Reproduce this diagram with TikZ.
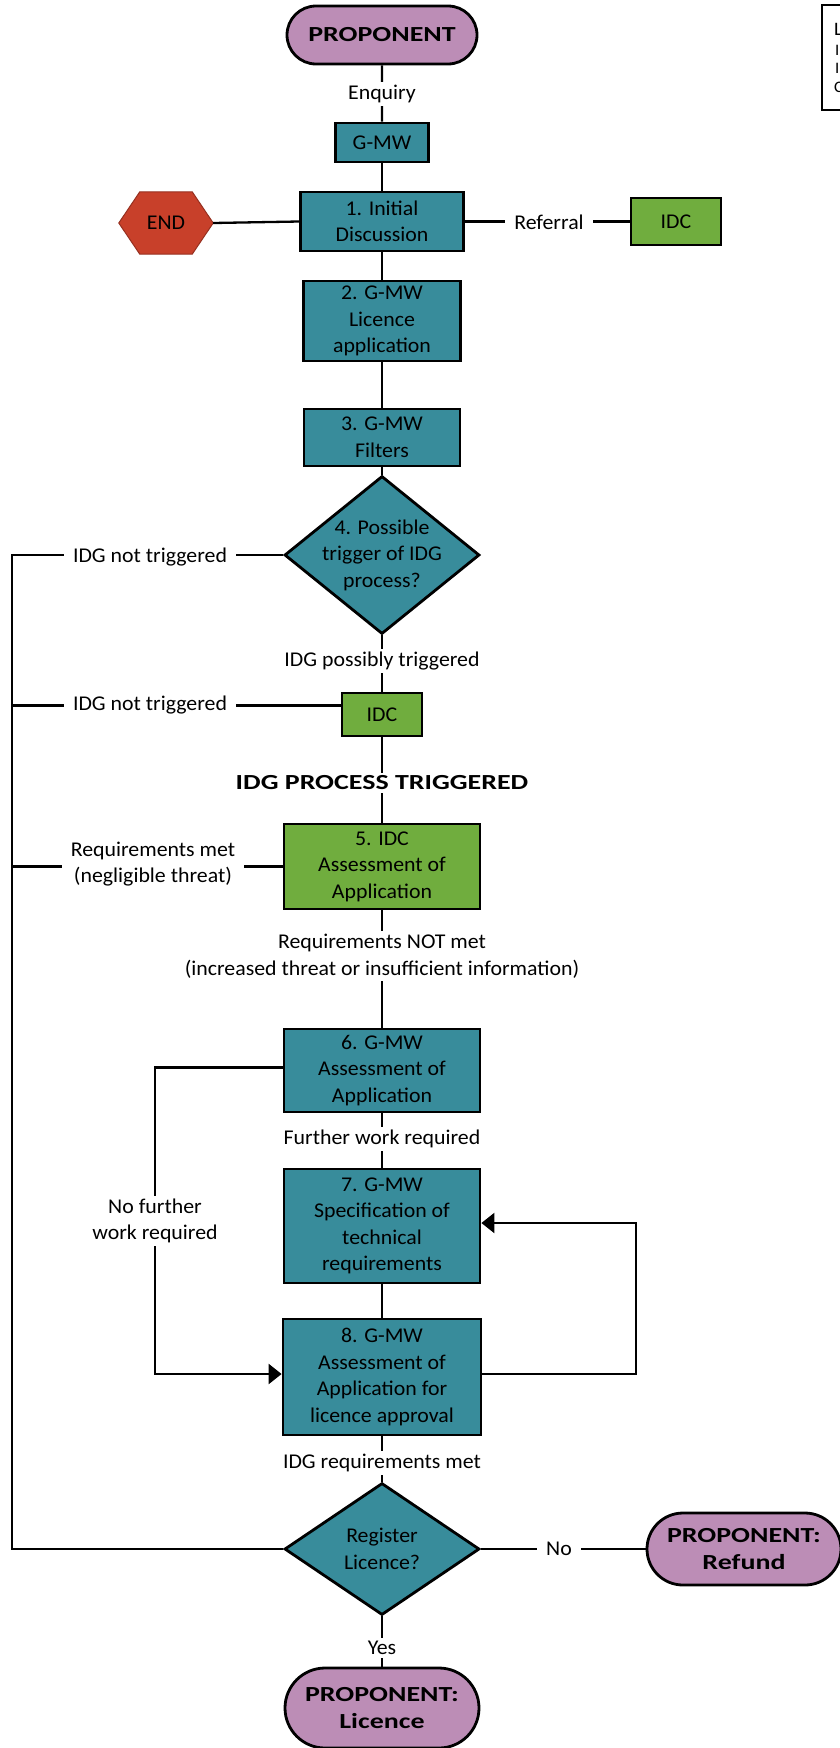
\documentclass[tikz,border=0pt]{standalone}
\usepackage{fontspec}
\setmainfont{Carlito}[FakeStretch=1.04]
\newfontfamily\widebf{Carlito}[FakeStretch=1.3]
\usetikzlibrary{arrows.meta,shapes.geometric,shapes.misc,calc,backgrounds}
\definecolor{tealbox}{RGB}{56,140,155}
\definecolor{greenbox}{RGB}{112,173,62}
\definecolor{purpbox}{RGB}{188,141,182}
\definecolor{redend}{RGB}{200,64,42}
\newcommand\fsz{\fontsize{21}{26.5}\selectfont}
\newcommand\bfz{\fontsize{21.5}{26.5}\selectfont\widebf\bfseries}
\tikzset{
  base/.style={draw=black, line width=2.8pt, align=center, font=\fsz, inner sep=0pt},
  tbox/.style={base, rectangle, fill=tealbox},
  gbox/.style={base, rectangle, fill=greenbox},
  stad/.style={base, rounded rectangle, fill=purpbox, font=\bfz},
  dia/.style={base, diamond, fill=tealbox, inner sep=-30pt},
  lbl/.style={fill=white, align=center, font=\fsz, inner xsep=9pt, inner ysep=3pt},
  conn/.style={draw=black, line width=2.3pt},
  tri/.style={-{Triangle[length=13pt,width=20pt]}}
}
\begin{document}
\begin{tikzpicture}[x=1pt,y=-1pt]
\useasboundingbox (0,0) rectangle (840,1748);
% main nodes
\node[stad, minimum width=190pt, minimum height=58pt] (prop) at (382,35) {PROPONENT};
\node[tbox, minimum width=93pt, minimum height=39pt] (gmw0) at (382,142.5) {G-MW};
\node[tbox, minimum width=163pt, minimum height=59pt] (init) at (382,221.5) {1. Initial\\Discussion};
\node[rectangle, minimum width=94pt, minimum height=62pt, inner sep=0pt, font=\fsz] (end) at (166,223) {END};
\node[gbox, minimum width=90pt, minimum height=47pt] (idc1) at (676,221.5) {IDC};
\node[tbox, minimum width=157pt, minimum height=80pt] (app) at (382,321) {2. G-MW\\Licence\\application};
\node[tbox, minimum width=156pt, minimum height=57pt] (filt) at (382,437.5) {3. G-MW\\Filters};
\node[dia, minimum width=195pt, minimum height=158pt] (dec4) at (382,555) {4. Possible\\trigger of IDG\\process?};
\node[gbox, minimum width=80pt, minimum height=43pt] (idc2) at (382,714.5) {IDC};
\node[gbox, minimum width=196pt, minimum height=85pt] (a5) at (382,866.5) {5. IDC\\Assessment of\\Application};
\node[tbox, minimum width=196pt, minimum height=83pt] (a6) at (382,1070.5) {6. G-MW\\Assessment of\\Application};
\node[tbox, minimum width=196pt, minimum height=114pt] (a7) at (382,1226) {7. G-MW\\Specification of\\technical\\requirements};
\node[tbox, minimum width=198pt, minimum height=116pt] (a8) at (382,1377) {8. G-MW\\Assessment of\\Application for\\licence approval};
\node[dia, minimum width=195pt, minimum height=132pt] (reg) at (382,1549) {Register\\Licence?};
\node[stad, minimum width=194pt, minimum height=72pt] (refund) at (744,1549) {PROPONENT:\\Refund};
\node[stad, minimum width=194pt, minimum height=80pt] (lic) at (382,1708) {PROPONENT:\\Licence};
% END hexagon
\begin{scope}[on background layer]
\draw[fill=redend, draw=redend!75!black, line width=1pt]
  (end.west) -- ($(end.north west)+(21,0)$) -- ($(end.north east)+(-21,0)$) -- (end.east)
  -- ($(end.south east)+(-21,0)$) -- ($(end.south west)+(21,0)$) -- cycle;
\end{scope}
% rail coordinates
\coordinate (railx) at (12,0);
\coordinate (lx) at (155,0);
\coordinate (rx) at (636,0);
% connectors
\draw[conn] (prop) -- (gmw0);
\draw[conn] (gmw0) -- (init);
\draw[conn] (init) -- (app);
\draw[conn] (app) -- (filt);
\draw[conn] (filt) -- (dec4);
\draw[conn] (dec4) -- (idc2);
\draw[conn] (idc2) -- (a5);
\draw[conn] (a5) -- (a6);
\draw[conn] (a6) -- (a7);
\draw[conn] (a7) -- (a8);
\draw[conn] (a8) -- (reg);
\draw[conn] (reg) -- (lic);
\draw[conn] (init.west) -- (end.east);
\draw[conn] (init.east) -- (idc1.west);
\draw[conn] (reg.east) -- (refund.west);
\draw[conn] (dec4.west) -- (dec4.west -| railx) |- (reg.west);
\draw[conn] ([yshift=9pt]idc2.west) -- ([yshift=9pt]idc2.west -| railx);
\draw[conn] (a5.west) -- (a5.west -| railx);
\draw[conn, tri] ([yshift=3pt]a6.west) -- ([yshift=3pt]a6.west -| lx) |- ([yshift=3pt]a8.west);
\draw[conn, tri] ([yshift=3pt]a8.east) -- ([yshift=3pt]a8.east -| rx) |- ([yshift=3pt]a7.east);
% labels
\node[lbl] (lenq) at (382,94) {Enquiry};
\node[lbl] (lref) at (549,222) {Referral};
\node[lbl] (lnt1) at (150,557) {IDG not triggered};
\node[lbl] (lposs) at (382,661) {IDG possibly triggered};
\node[lbl] (lnt2) at (150,705) {IDG not triggered};
\node[lbl, font=\bfz] (ltrig) at (382,783) {IDG PROCESS TRIGGERED};
\node[lbl] (lrm) at (153,864) {Requirements met\\(negligible threat)};
\node[lbl] (lrnm) at (382,956) {Requirements NOT met\\(increased threat or insufficient information)};
\node[lbl] (lfw) at (382,1139) {Further work required};
\node[lbl] (lnfw) at (155,1221) {No further\\work required};
\node[lbl] (lirm) at (382,1463) {IDG requirements met};
\node[lbl] (lno) at (559,1549) {No};
\node[lbl] (lyes) at (382,1648) {Yes};
% legend box (cut by page edge)
\begin{scope}
\clip (0,0) rectangle (840,1748);
\draw[line width=2pt] (822,5) rectangle (870,110);
\node[anchor=west, inner sep=0pt, font=\fontsize{19}{19}\selectfont] (lg1) at (834,29) {L};
\node[anchor=west, inner sep=0pt, font=\fontsize{16}{16}\selectfont] (lg2) at (835,50) {I};
\node[anchor=west, inner sep=0pt, font=\fontsize{16}{16}\selectfont] (lg3) at (835,68) {I};
\node[anchor=west, inner sep=0pt, font=\fontsize{16}{16}\selectfont] (lg4) at (834,87) {C};
\end{scope}
\end{tikzpicture}
\end{document}
